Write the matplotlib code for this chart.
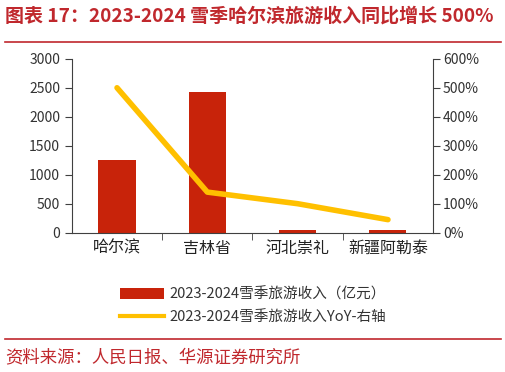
import matplotlib.pyplot as plt
from matplotlib.lines import Line2D
from matplotlib.patches import Patch

plt.rcParams['font.family'] = ['Noto Sans CJK SC', 'DejaVu Sans']

# data
cities = ['哈尔滨', '吉林省', '河北崇礼', '新疆阿勒泰']
revenue = [1250, 2425, 50, 40]  # 亿元
yoy = [500, 140, 100, 45]  # %

BAR_COLOR = '#C8230A'
LINE_COLOR = '#FFC000'
RED = '#C0282D'
AXIS_GREY = '#404040'


def main():
    fig = plt.figure(figsize=(5.06, 3.72), dpi=100)
    ax = fig.add_axes([0.142, 0.3745, 0.714, 0.4675])
    ax2 = ax.twinx()

    x = list(range(len(cities)))
    ax.bar(x, revenue, width=0.41, color=BAR_COLOR, zorder=2)
    ax2.plot(x, yoy, color=LINE_COLOR, linewidth=4, solid_capstyle='round', zorder=3)

    ax.set_xlim(-0.5, len(cities) - 0.5)
    ax.set_ylim(0, 3000)
    ax.set_yticks(range(0, 3001, 500))
    ax2.set_ylim(0, 600)
    ax2.set_yticks(range(0, 601, 100))
    ax2.set_yticklabels([f'{v}%' for v in range(0, 601, 100)])

    # category labels centred, ticks at the boundaries
    ax.set_xticks(x)
    ax.set_xticklabels(cities, fontsize=11.5, color='#222222')
    ax.tick_params(axis='x', length=0, pad=5)
    ax.set_xticks([i + 0.5 for i in x[:-1]], minor=True)
    ax.tick_params(axis='x', which='minor', length=5, color=AXIS_GREY, direction='out')

    for a in (ax, ax2):
        a.spines['top'].set_visible(False)
        a.tick_params(axis='y', labelsize=10, length=5, direction='out')
        a.spines['left'].set_color(AXIS_GREY)
        a.spines['right'].set_color(AXIS_GREY)
        a.spines['bottom'].set_color(AXIS_GREY)
    ax.spines['right'].set_visible(False)
    ax2.spines['left'].set_visible(False)
    ax2.spines['bottom'].set_visible(False)
    ax.tick_params(axis='y', colors=AXIS_GREY, labelcolor='#333333')
    ax2.tick_params(axis='y', colors=AXIS_GREY, labelcolor='#333333', pad=2)

    # title and frame lines
    fig.text(0.01, 0.958, '图表 17：2023-2024 雪季哈尔滨旅游收入同比增长 500%',
             fontsize=13.7, fontweight='bold', color=RED, va='center', ha='left')
    fig.add_artist(Line2D([0.01, 0.99], [0.888, 0.888], color=RED, linewidth=1.2))
    fig.add_artist(Line2D([0.01, 0.99], [0.088, 0.088], color=RED, linewidth=1.2))
    fig.text(0.01, 0.04, '资料来源：人民日报、华源证券研究所', fontsize=12.5,
             color=RED, va='center', ha='left')

    handles = [Patch(facecolor=BAR_COLOR), Line2D([], [], color=LINE_COLOR, linewidth=3)]
    labels = ['2023-2024雪季旅游收入（亿元）', '2023-2024雪季旅游收入YoY-右轴']
    fig.legend(handles, labels, loc='center', bbox_to_anchor=(0.5, 0.178), frameon=False,
               fontsize=10.5, handlelength=3, handleheight=0.8, handletextpad=0.4,
               labelspacing=0.65, labelcolor='#333333')

    fig.savefig('out.png', dpi=100)


if __name__ == '__main__':
    main()
